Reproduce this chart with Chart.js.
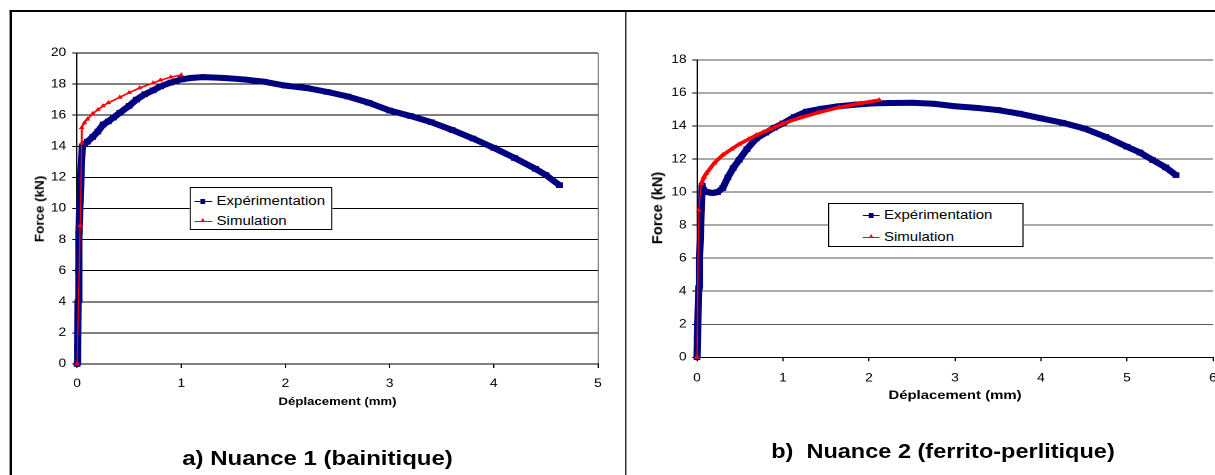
<!DOCTYPE html>
<html lang="fr">
<head>
    <meta charset="UTF-8">
    <title>Force - Déplacement</title>
    <style>
        html, body {
            margin: 0;
            padding: 0;
            background: #fff;
            overflow: hidden;
            font-family: 'Liberation Sans', Arial, sans-serif;
        }
        /* the original picture is stretched horizontally, so the whole page is too */
        #page {
            position: relative;
            width: 1012.5px;
            height: 475px;
            transform: scaleX(1.2);
            transform-origin: 0 0;
        }
        .rule { position: absolute; background: #000; }
        .box { position: absolute; }
        .legend {
            position: absolute;
            background: #fff;
            border: 1px solid #000;
            font-size: 12.5px;
            color: #000;
        }
        .row { position: absolute; line-height: 14px; white-space: nowrap; }
        .mk { position: absolute; height: 1px; }
        .mk.blue { background: #000080; }
        .mk.red { background: #ff0000; }
        .mk.blue::after {
            content: ''; position: absolute; left: 5px; top: -2px;
            width: 4px; height: 5px; background: #000080;
        }
        .mk.red::after {
            content: ''; position: absolute; left: 4.5px; top: -3px;
            width: 0; height: 0;
            border-left: 2.5px solid transparent;
            border-right: 2.5px solid transparent;
            border-bottom: 4px solid #ff0000;
        }
        /* rotated axis title, drawn a little long like in the original */
        .ytitle {
            position: absolute;
            font-weight: bold;
            line-height: 1;
            white-space: nowrap;
            color: #000;
            transform: translate(-50%, -50%) rotate(-90deg) scaleX(1.22);
        }
        .caption {
            position: absolute;
            font-size: 20px;
            font-weight: bold;
            line-height: 24px;
            text-align: center;
            white-space: pre;
            color: #000;
        }
    </style>
    <script src="https://cdn.jsdelivr.net/npm/chart.js"></script>
</head>
<body>
<div id="page">
    <!-- cadre du tableau -->
    <div class="rule" style="left:8.3px; top:10px; width:1010px; height:2px;"></div>
    <div class="rule" style="left:8.3px; top:10px; width:1.8px; height:465px;"></div>
    <div class="rule" style="left:520.5px; top:10px; width:1.8px; height:465px;"></div>

    <div class="box" style="left:10px; top:14px; width:510px; height:420px;">
        <canvas id="chartA"></canvas>
    </div>
    <div class="box" style="left:528px; top:14px; width:500px; height:420px;">
        <canvas id="chartB"></canvas>
    </div>

    <div class="ytitle" style="left:33.3px; top:208.5px; font-size:11px;">Force (kN)</div>
    <div class="ytitle" style="left:547.5px; top:208.3px; font-size:12px;">Force (kN)</div>

    <!-- légendes -->
    <div class="legend" style="left:158.3px; top:187px; width:116.5px; height:40.5px;">
        <div class="row" style="left:3.2px; top:5.7px;"><span class="mk blue" style="left:0; top:7px; width:14.7px;"></span><span style="position:absolute; left:18px;">Expérimentation</span></div>
        <div class="row" style="left:3.2px; top:26.2px;"><span class="mk red" style="left:0; top:7px; width:14.7px;"></span><span style="position:absolute; left:18px;">Simulation</span></div>
    </div>
    <div class="legend" style="left:690px; top:203.3px; width:160.5px; height:41.5px;">
        <div class="row" style="left:28px; top:3.9px;"><span class="mk blue" style="left:0; top:7px; width:14px;"></span><span style="position:absolute; left:17.7px;">Expérimentation</span></div>
        <div class="row" style="left:28px; top:25.9px;"><span class="mk red" style="left:0; top:7px; width:14px;"></span><span style="position:absolute; left:17.7px;">Simulation</span></div>
    </div>

    <div class="caption" style="left:64.6px; width:400px; top:446.2px;">a) Nuance 1 (bainitique)</div>
    <div class="caption" style="left:585.8px; width:400px; top:439.2px; font-size:19.6px;">b)  Nuance 2 (ferrito-perlitique)</div>
</div>

<script>
    // a) Nuance 1 - expérimentation
    const dispExpA = [0, 0.005, 0.01, 0.015, 0.02, 0.03, 0.04, 0.05, 0.1, 0.15, 0.2, 0.25, 0.3, 0.35, 0.41,
        0.5, 0.57, 0.65, 0.73, 0.8, 0.9, 1.0, 1.1, 1.21, 1.4, 1.6, 1.8, 2.0, 2.2, 2.4, 2.6, 2.8,
        3.0, 3.2, 3.4, 3.6, 3.8, 4.0, 4.2, 4.4, 4.5, 4.63];
    const forceExpA = [0, 1.0, 4.0, 6.0, 8.5, 10.5, 12.5, 14.0, 14.3, 14.6, 14.95, 15.4, 15.6, 15.85, 16.15,
        16.6, 17.0, 17.35, 17.6, 17.85, 18.1, 18.3, 18.4, 18.45, 18.4, 18.3, 18.15, 17.9, 17.75, 17.5, 17.2, 16.8,
        16.3, 15.95, 15.55, 15.05, 14.5, 13.9, 13.25, 12.55, 12.15, 11.5];

    // a) Nuance 1 - simulation
    const dispSimA = [0, 0.03, 0.045, 0.045, 0.07, 0.1, 0.15, 0.2, 0.25, 0.3, 0.41, 0.5, 0.6, 0.73, 0.8, 0.9, 1.0];
    const forceSimA = [0, 8.9, 14.2, 15.2, 15.5, 15.75, 16.1, 16.35, 16.6, 16.8, 17.15, 17.45, 17.75, 18.07, 18.25, 18.45, 18.58];

    // b) Nuance 2 - expérimentation
    const dispExpB = [0, 0.01, 0.02, 0.03, 0.04, 0.05, 0.06, 0.08, 0.12, 0.18, 0.24, 0.3, 0.36, 0.42, 0.49,
        0.58, 0.69, 0.8, 0.9, 1.0, 1.13, 1.27, 1.45, 1.65, 1.85, 2.04, 2.25, 2.5, 2.75, 3.0, 3.25, 3.5,
        3.75, 4.0, 4.25, 4.5, 4.75, 5.0, 5.15, 5.3, 5.45, 5.57];
    const forceExpB = [0, 2.0, 4.2, 6.0, 7.5, 9.0, 10.4, 10.1, 10.0, 9.95, 10.0, 10.25, 10.9, 11.45, 11.95,
        12.6, 13.25, 13.6, 13.9, 14.16, 14.55, 14.87, 15.05, 15.2, 15.3, 15.37, 15.4, 15.41, 15.35, 15.2, 15.1, 14.97,
        14.75, 14.47, 14.2, 13.86, 13.35, 12.75, 12.4, 11.94, 11.5, 11.03];

    // b) Nuance 2 - simulation
    const dispSimB = [0, 0.02, 0.05, 0.08, 0.11, 0.2, 0.3, 0.4, 0.49, 0.6, 0.69, 0.85, 1.0, 1.2, 1.4, 1.65, 1.9, 2.12];
    const forceSimB = [0, 8.9, 10.5, 10.9, 11.14, 11.75, 12.25, 12.6, 12.9, 13.2, 13.45, 13.8, 14.16, 14.5, 14.8, 15.13, 15.38, 15.57];

    // graduations
    const xTicksA = [0, 1, 2, 3, 4, 5];
    const yTicksA = [0, 2, 4, 6, 8, 10, 12, 14, 16, 18, 20];
    const xTicksB = [0, 1, 2, 3, 4, 5, 6];
    const yTicksB = [0, 2, 4, 6, 8, 10, 12, 14, 16, 18];

    Chart.defaults.font.family = "'Liberation Sans', Arial, sans-serif";
    Chart.defaults.color = '#000';

    function points(xs, ys) {
        return xs.map((x, i) => ({ x: x, y: ys[i] }));
    }

    function makeChart(id, cfg) {
        const ctx = document.getElementById(id).getContext('2d');
        return new Chart(ctx, {
            type: 'scatter',
            data: {
                datasets: [
                    {
                        label: 'Simulation',
                        data: points(cfg.simX, cfg.simY),
                        showLine: true,
                        borderColor: '#ff0000',
                        backgroundColor: '#ff0000',
                        borderWidth: cfg.simWidth,
                        // the elastic part of the simulation is only a thin line
                        segment: { borderWidth: c => c.p1DataIndex <= 2 ? 1 : cfg.simWidth },
                        pointStyle: 'triangle',
                        pointRadius: cfg.simRadius,
                        pointBorderWidth: 0,
                        clip: false,
                        order: 0
                    },
                    {
                        label: 'Expérimentation',
                        data: points(cfg.expX, cfg.expY),
                        showLine: true,
                        borderColor: '#000080',
                        backgroundColor: '#000080',
                        borderWidth: 6,
                        borderJoinStyle: 'round',
                        pointStyle: 'rect',
                        pointRadius: 4,
                        pointBorderWidth: 0,
                        clip: false,
                        order: 1
                    }
                ]
            },
            options: {
                responsive: true,
                maintainAspectRatio: false,
                devicePixelRatio: 2,
                animation: false,
                layout: { padding: cfg.padding },
                plugins: {
                    legend: { display: false },
                    tooltip: { enabled: false }
                },
                scales: {
                    x: {
                        type: 'linear',
                        min: cfg.xTicks[0],
                        max: cfg.xTicks[cfg.xTicks.length - 1],
                        afterBuildTicks: s => { s.ticks = cfg.xTicks.map(v => ({ value: v })); },
                        afterFit: s => { s.height = cfg.xHeight; },
                        grid: {
                            // only the right edge of the plot area is drawn
                            color: c => (c.tick && c.tick.value === cfg.edgeValue) ? '#888' : 'rgba(0,0,0,0)',
                            tickColor: '#000',
                            tickLength: 4
                        },
                        border: { color: '#000', width: 1 },
                        ticks: { padding: cfg.xPad, font: { size: 11.5 }, maxRotation: 0, autoSkip: false },
                        title: { display: true, text: 'Déplacement (mm)', font: { size: cfg.titleSize, weight: 'bold' } }
                    },
                    y: {
                        min: cfg.yTicks[0],
                        max: cfg.yTicks[cfg.yTicks.length - 1],
                        afterBuildTicks: s => { s.ticks = cfg.yTicks.map(v => ({ value: v })); },
                        afterFit: s => { s.width = cfg.yWidth; },
                        grid: { color: cfg.gridColor, tickColor: '#000', tickLength: 4 },
                        border: { color: '#000', width: 1 },
                        ticks: { padding: cfg.yPad, font: { size: 11.5 } },
                        title: { display: false }
                    }
                }
            }
        });
    }

    makeChart('chartA', {
        expX: dispExpA, expY: forceExpA, simX: dispSimA, simY: forceSimA,
        xTicks: xTicksA, yTicks: yTicksA, edgeValue: 5,
        simWidth: 1.6, simRadius: 2.8, titleSize: 11,
        padding: { left: 12.7, right: 21.7, top: 39, bottom: 21.4 },
        yWidth: 41.5, xHeight: 48.6, xPad: 9, yPad: 5,
        gridColor: '#000'
    });

    makeChart('chartB', {
        expX: dispExpB, expY: forceExpB, simX: dispSimB, simY: forceSimB,
        xTicks: xTicksB, yTicks: yTicksB, edgeValue: null,
        simWidth: 3.5, simRadius: 3, titleSize: 12.4,
        padding: { left: 7.2, right: 17.2, top: 46, bottom: 27.1 },
        yWidth: 45.6, xHeight: 49.6, xPad: 10, yPad: 4.6,
        gridColor: '#555'
    });
</script>
</body>
</html>
